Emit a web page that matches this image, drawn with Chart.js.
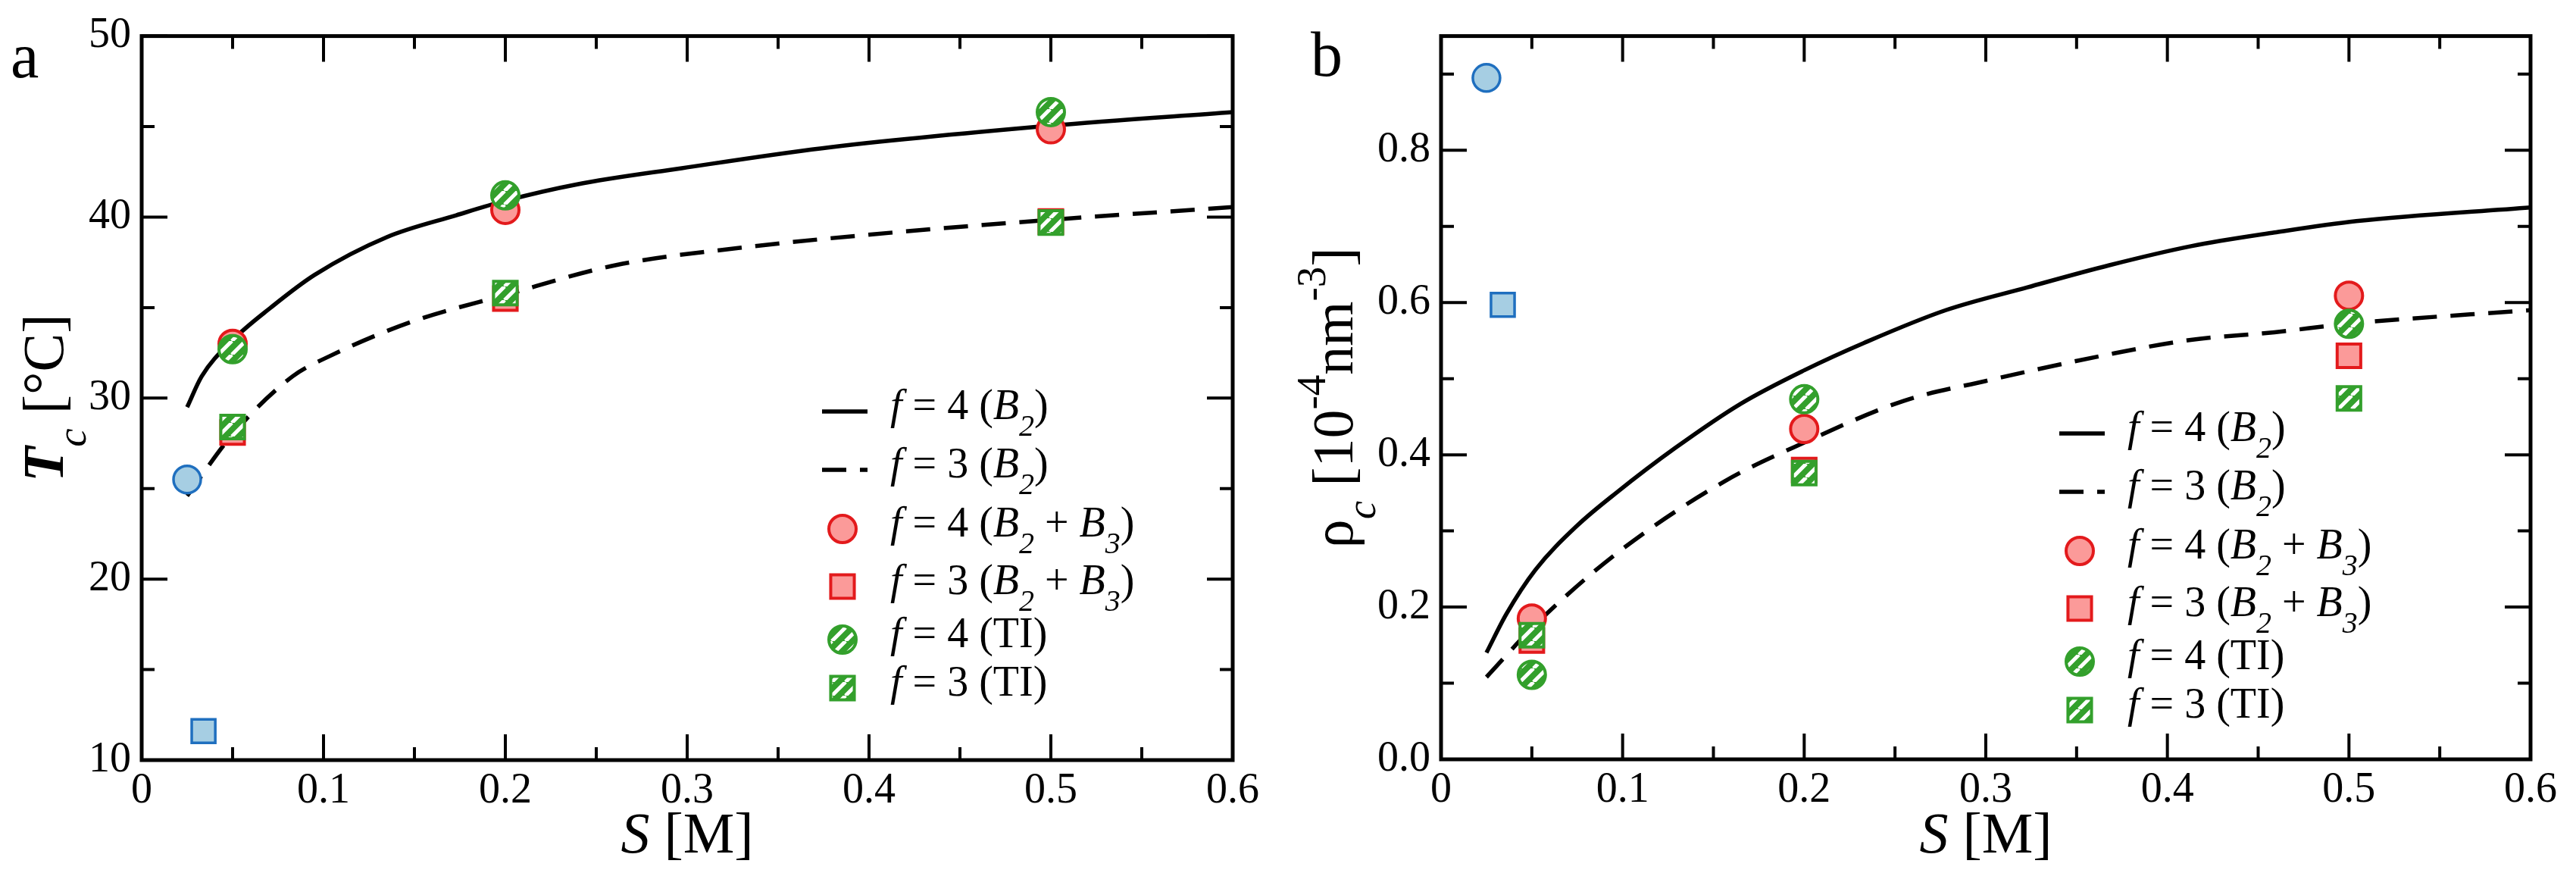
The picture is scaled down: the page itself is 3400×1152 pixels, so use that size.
<!DOCTYPE html>
<html>
<head>
<meta charset="utf-8">
<script src="https://cdn.jsdelivr.net/npm/chart.js@4/dist/chart.umd.min.js"></script>
<style>
  html, body { margin: 0; padding: 0; background: #fff; }
  .panel { position: absolute; top: 0; width: 1700px; height: 1152px; }
  #panelA { left: 0; }
  #panelB { left: 1700px; }
</style>
</head>
<body>
<div class="panel" id="panelA"><canvas id="chartA" width="1700" height="1152"></canvas></div>
<div class="panel" id="panelB"><canvas id="chartB" width="1700" height="1152"></canvas></div>
<script>
// salt concentrations where the simulations were run
const saltPoints = [0.05, 0.2, 0.5];

// panel a: critical temperature Tc [°C]
const tcF4B2x = [0.025, 0.033, 0.05, 0.071, 0.095, 0.135, 0.173, 0.2, 0.239, 0.297, 0.374, 0.5, 0.6];
const tcF4B2y = [29.5, 31.2, 33.2, 35.0, 36.8, 38.9, 40.1, 40.9, 41.8, 42.7, 43.8, 45.05, 45.8];
const tcF3B2x = [0.025, 0.05, 0.083, 0.103, 0.148, 0.2, 0.261, 0.329, 0.419, 0.5, 0.6];
const tcF3B2y = [24.6, 28.0, 31.2, 32.3, 34.2, 35.7, 37.35, 38.3, 39.2, 39.85, 40.55];
const tcF4B2B3 = [33.0, 40.4, 44.85];
const tcF3B2B3 = [28.1, 35.5, 39.75];
const tcF4TI = [32.7, 41.2, 45.8];
const tcF3TI = [28.4, 35.8, 39.7];
const tcExpCircle = [0.025, 25.5];
const tcExpSquare = [0.034, 11.6];

// panel b: critical density rho_c [1e-4 nm^-3]
const rhoF4B2x = [0.025, 0.036, 0.052, 0.075, 0.097, 0.129, 0.165, 0.2, 0.233, 0.278, 0.323, 0.368, 0.413, 0.459, 0.504, 0.6];
const rhoF4B2y = [0.14, 0.191, 0.249, 0.307, 0.351, 0.409, 0.467, 0.511, 0.547, 0.59, 0.62, 0.649, 0.674, 0.692, 0.707, 0.725];
const rhoF3B2x = [0.025, 0.052, 0.097, 0.156, 0.2, 0.255, 0.3, 0.368, 0.413, 0.459, 0.499, 0.6];
const rhoF3B2y = [0.108, 0.177, 0.271, 0.365, 0.416, 0.471, 0.497, 0.532, 0.551, 0.561, 0.572, 0.59];
const rhoF4B2B3 = [0.185, 0.434, 0.609];
const rhoF3B2B3 = [0.156, 0.38, 0.53];
const rhoF4TI = [0.111, 0.473, 0.572];
const rhoF3TI = [0.163, 0.376, 0.474];
const rhoExpCircle = [0.025, 0.895];
const rhoExpSquare = [0.034, 0.597];

// ticks
const xMajor = [0, 0.1, 0.2, 0.3, 0.4, 0.5, 0.6];
const xMinor = [0.05, 0.15, 0.25, 0.35, 0.45, 0.55];
const tcMajor = [10, 20, 30, 40, 50];
const tcMinor = [15, 25, 35, 45];
const rhoMajor = [0, 0.2, 0.4, 0.6, 0.8];
const rhoMinor = [0.1, 0.3, 0.5, 0.7, 0.9];

// legend labels: [text, style]
const legendLabels = {
  f4b2: [['f', 'i'], [' = 4 ('], ['B', 'i'], ['2', 'sub'], [')']],
  f3b2: [['f', 'i'], [' = 3 ('], ['B', 'i'], ['2', 'sub'], [')']],
  f4b2b3: [['f', 'i'], [' = 4 ('], ['B', 'i'], ['2', 'sub'], [' + '], ['B', 'i'], ['3', 'sub'], [')']],
  f3b2b3: [['f', 'i'], [' = 3 ('], ['B', 'i'], ['2', 'sub'], [' + '], ['B', 'i'], ['3', 'sub'], [')']],
  f4ti: [['f', 'i'], [' = 4 (TI)']],
  f3ti: [['f', 'i'], [' = 3 (TI)']]
};
const legendOrder = ['f4b2', 'f3b2', 'f4b2b3', 'f3b2b3', 'f4ti', 'f3ti'];
const legendRowOffsets = [0, 77, 155, 231, 301, 365];

const FONT = '"Liberation Serif", "Times New Roman", serif';
const RED = '#e31a1c', RED_FILL = '#fb9a99';
const BLUE = '#1f6fbf', BLUE_FILL = '#a6cee3';
const GREEN = '#33a02c';

function hatchPattern() {
    const c = document.createElement('canvas');
    c.width = c.height = 18;
    const g = c.getContext('2d');
    g.fillStyle = GREEN;
    g.fillRect(0, 0, 18, 18);
    g.strokeStyle = '#ffffff';
    g.lineWidth = 5;
    g.beginPath();
    [-18, 0, 18].forEach(function(o) {
        g.moveTo(o, 18);
        g.lineTo(o + 18, 0);
    });
    g.stroke();
    return g.createPattern(c, 'repeat');
}
const HATCH = hatchPattern();

function segFont(style, size) {
    if (style === 'i') return { font: 'italic ' + size + 'px ' + FONT, dy: 0 };
    if (style === 'bi') return { font: 'italic bold ' + size + 'px ' + FONT, dy: 0 };
    if (style === 'sub') return { font: 'italic ' + Math.round(size * 0.72) + 'px ' + FONT, dy: size * 0.4 };
    if (style === 'sup') return { font: Math.round(size * 0.72) + 'px ' + FONT, dy: -size * 0.48 };
    return { font: size + 'px ' + FONT, dy: 0 };
}

function richWidth(ctx, segs, size) {
    let w = 0;
    segs.forEach(function(s) {
        ctx.font = segFont(s[1], size).font;
        w += ctx.measureText(s[0]).width;
    });
    return w;
}

function drawRich(ctx, segs, x, y, size) {
    let cx = x;
    ctx.textBaseline = 'alphabetic';
    ctx.textAlign = 'left';
    ctx.fillStyle = '#000';
    segs.forEach(function(s) {
        const f = segFont(s[1], size);
        ctx.font = f.font;
        ctx.fillText(s[0], cx, y + f.dy);
        cx += ctx.measureText(s[0]).width;
    });
}

function pts(xs, ys) {
    return xs.map(function(x, i) { return { x: x, y: ys[i] }; });
}

function markerSet(label, ys, style, fill, stroke, order) {
    return {
        type: 'scatter', label: label, order: order,
        data: pts(saltPoints, ys),
        pointStyle: style,
        pointRadius: style === 'rect' ? 22 : 18,
        pointBorderWidth: 4,
        pointBackgroundColor: fill,
        pointBorderColor: stroke,
        showLine: false
    };
}

function lineSet(label, xs, ys, dash) {
    return {
        type: 'line', label: label, order: 20,
        data: pts(xs, ys),
        borderColor: '#000', borderWidth: 5.5,
        borderDash: dash, pointRadius: 0,
        cubicInterpolationMode: 'monotone', fill: false
    };
}

function decoPlugin(cfg) {
    return {
        id: 'deco',
        afterDraw: function(chart) {
            const ctx = chart.ctx;
            const a = chart.chartArea;
            const xs = chart.scales.x, ys = chart.scales.y;
            ctx.save();
            // inward ticks on all four sides
            ctx.strokeStyle = '#000';
            ctx.lineWidth = 4;
            ctx.beginPath();
            function xt(v, len) {
                const p = xs.getPixelForValue(v);
                ctx.moveTo(p, a.bottom); ctx.lineTo(p, a.bottom - len);
                ctx.moveTo(p, a.top); ctx.lineTo(p, a.top + len);
            }
            function yt(v, len) {
                const p = ys.getPixelForValue(v);
                ctx.moveTo(a.left, p); ctx.lineTo(a.left + len, p);
                ctx.moveTo(a.right, p); ctx.lineTo(a.right - len, p);
            }
            xMajor.forEach(function(v) { xt(v, 34); });
            xMinor.forEach(function(v) { xt(v, 17); });
            cfg.yMajor.forEach(function(v) { yt(v, 34); });
            cfg.yMinor.forEach(function(v) { yt(v, 17); });
            ctx.stroke();
            // frame
            ctx.lineWidth = 5;
            ctx.strokeRect(a.left, a.top, a.right - a.left, a.bottom - a.top);

            // panel letter
            ctx.fillStyle = '#000';
            ctx.font = '84px ' + FONT;
            ctx.textBaseline = 'alphabetic';
            ctx.fillText(cfg.letter, cfg.letterX, cfg.letterY);

            // x title
            const xTitle = [['S', 'i'], [' [M]']];
            const xw = richWidth(ctx, xTitle, 76);
            drawRich(ctx, xTitle, (a.left + a.right) / 2 - xw / 2, 1125, 76);

            // y title (rotated)
            const yw = richWidth(ctx, cfg.yTitle, 76);
            ctx.save();
            ctx.translate(cfg.yTitleX, (a.top + a.bottom) / 2);
            ctx.rotate(-Math.PI / 2);
            drawRich(ctx, cfg.yTitle, -yw / 2, 0, 76);
            ctx.restore();

            // legend
            const lx = a.left + cfg.legendDX;
            const ly = cfg.legendY;
            legendOrder.forEach(function(key, i) {
                const ds = chart.data.datasets.find(function(d) { return d.label === key; });
                const ry = ly + legendRowOffsets[i];
                if (ds.type === 'line') {
                    ctx.save();
                    ctx.strokeStyle = '#000';
                    ctx.lineWidth = 5.5;
                    ctx.setLineDash(ds.borderDash || []);
                    ctx.beginPath();
                    ctx.moveTo(lx, ry); ctx.lineTo(lx + 60, ry);
                    ctx.stroke();
                    ctx.restore();
                } else {
                    const mx = lx + 27;
                    ctx.fillStyle = ds.pointBackgroundColor;
                    ctx.strokeStyle = ds.pointBorderColor;
                    ctx.lineWidth = 4;
                    ctx.beginPath();
                    if (ds.pointStyle === 'rect') {
                        const h = ds.pointRadius * Math.SQRT1_2;
                        ctx.rect(mx - h, ry - h, 2 * h, 2 * h);
                    } else {
                        ctx.arc(mx, ry, ds.pointRadius, 0, Math.PI * 2);
                    }
                    ctx.fill();
                    ctx.stroke();
                }
                drawRich(ctx, legendLabels[key], lx + 90, ry + 10, 56);
            });
            ctx.restore();
        }
    };
}

function makeChart(id, cfg) {
    const tickFont = { family: FONT, size: 56 };
    return new Chart(document.getElementById(id), {
        data: { datasets: cfg.datasets },
        options: {
            responsive: false,
            animation: false,
            devicePixelRatio: 1,
            layout: { padding: { left: 0, top: cfg.top, right: cfg.right, bottom: 0 } },
            plugins: { legend: { display: false }, tooltip: { enabled: false } },
            scales: {
                x: {
                    type: 'linear', min: 0, max: 0.6,
                    grid: { display: false, drawTicks: false },
                    border: { display: false },
                    afterBuildTicks: function(s) { s.ticks = xMajor.map(function(v) { return { value: v }; }); },
                    afterFit: function(s) { s.height = 1152 - cfg.bottom; },
                    ticks: {
                        autoSkip: false, maxRotation: 0, padding: 8, color: '#000', font: tickFont,
                        callback: function(v) { return v === 0 ? '0' : v.toFixed(1); }
                    }
                },
                y: {
                    type: 'linear', min: cfg.yMin, max: cfg.yMax,
                    grid: { display: false, drawTicks: false },
                    border: { display: false },
                    afterBuildTicks: function(s) { s.ticks = cfg.yMajor.map(function(v) { return { value: v }; }); },
                    afterFit: function(s) { s.width = cfg.left; },
                    ticks: {
                        autoSkip: false, padding: 14, color: '#000', font: tickFont,
                        callback: cfg.yFormat
                    }
                }
            }
        },
        plugins: [decoPlugin(cfg)]
    });
}

makeChart('chartA', {
    left: 187, right: 73, top: 43, bottom: 1003,
    yMin: 10, yMax: 50, yMajor: tcMajor, yMinor: tcMinor,
    yFormat: function(v) { return String(v); },
    letter: 'a', letterX: 14, letterY: 102,
    yTitle: [['T', 'bi'], ['c', 'sub'], [' [°C]']], yTitleX: 83,
    legendDX: 898, legendY: 543,
    datasets: [
        lineSet('f4b2', tcF4B2x, tcF4B2y, []),
        lineSet('f3b2', tcF3B2x, tcF3B2y, [32, 18]),
        markerSet('f4b2b3', tcF4B2B3, 'circle', RED_FILL, RED, 8),
        markerSet('f3b2b3', tcF3B2B3, 'rect', RED_FILL, RED, 7),
        markerSet('f4ti', tcF4TI, 'circle', HATCH, GREEN, 6),
        markerSet('f3ti', tcF3TI, 'rect', HATCH, GREEN, 5),
        { type: 'scatter', label: 'expCircle', order: 4, data: [{ x: tcExpCircle[0], y: tcExpCircle[1] }],
          pointStyle: 'circle', pointRadius: 18, pointBorderWidth: 3.5, pointBackgroundColor: BLUE_FILL, pointBorderColor: BLUE },
        { type: 'scatter', label: 'expSquare', order: 3, data: [{ x: tcExpSquare[0], y: tcExpSquare[1] }],
          pointStyle: 'rect', pointRadius: 22, pointBorderWidth: 3.5, pointBackgroundColor: BLUE_FILL, pointBorderColor: BLUE }
    ]
});

makeChart('chartB', {
    left: 202, right: 60, top: 42, bottom: 1002,
    yMin: 0, yMax: 0.95, yMajor: rhoMajor, yMinor: rhoMinor,
    yFormat: function(v) { return v.toFixed(1); },
    letter: 'b', letterX: 30, letterY: 100,
    yTitle: [['ρ'], ['c', 'sub'], [' [10'], ['-4', 'sup'], ['nm'], ['-3', 'sup'], [']']], yTitleX: 85,
    legendDX: 816, legendY: 572,
    datasets: [
        lineSet('f4b2', rhoF4B2x, rhoF4B2y, []),
        lineSet('f3b2', rhoF3B2x, rhoF3B2y, [32, 18]),
        markerSet('f4b2b3', rhoF4B2B3, 'circle', RED_FILL, RED, 8),
        markerSet('f3b2b3', rhoF3B2B3, 'rect', RED_FILL, RED, 7),
        markerSet('f4ti', rhoF4TI, 'circle', HATCH, GREEN, 6),
        markerSet('f3ti', rhoF3TI, 'rect', HATCH, GREEN, 5),
        { type: 'scatter', label: 'expCircle', order: 4, data: [{ x: rhoExpCircle[0], y: rhoExpCircle[1] }],
          pointStyle: 'circle', pointRadius: 18, pointBorderWidth: 3.5, pointBackgroundColor: BLUE_FILL, pointBorderColor: BLUE },
        { type: 'scatter', label: 'expSquare', order: 3, data: [{ x: rhoExpSquare[0], y: rhoExpSquare[1] }],
          pointStyle: 'rect', pointRadius: 22, pointBorderWidth: 3.5, pointBackgroundColor: BLUE_FILL, pointBorderColor: BLUE }
    ]
});
</script>
</body>
</html>
